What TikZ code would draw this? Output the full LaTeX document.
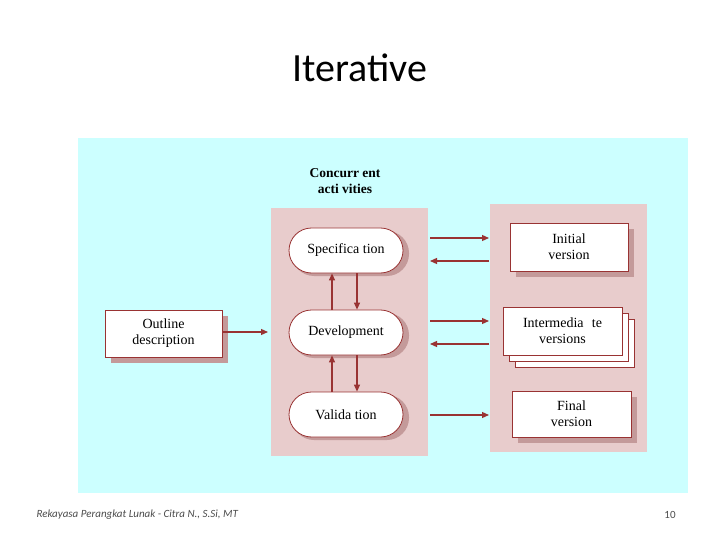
\documentclass[tikz,border=0pt]{standalone}
\usepackage{fontspec}
\setmainfont{Liberation Serif}
\newfontfamily\calib{Carlito}
\usetikzlibrary{arrows.meta,shapes.misc}
\definecolor{bgc}{HTML}{CCFFFF}
\definecolor{pnl}{HTML}{E8CCCC}
\definecolor{arr}{HTML}{993333}
\definecolor{shd}{HTML}{C49A9A}
\begin{document}
\begin{tikzpicture}[x=1pt,y=-1pt,
  box/.style={draw=arr,fill=white,line width=0.8pt,minimum width=117pt,minimum height=47pt,align=center,font=\fontsize{14}{16}\selectfont,inner sep=1pt},
  pill/.style={box,rounded rectangle,minimum width=116pt,minimum height=45pt},
  ar/.style={draw=arr,line width=1.2pt,-{Triangle[length=7pt,width=6pt]}}]
\useasboundingbox (0,0) rectangle (720,540);
\fill[white] (0,0) rectangle (720,540);
\node[font=\calib\fontsize{40}{44}\selectfont] (title) at (360,68) {Iterative};
\fill[bgc] (78,138) rectangle (688,493);
\fill[pnl] (271,208) rectangle (428,456);
\fill[pnl] (490,204) rectangle (647,452);
\node[font=\bfseries\fontsize{13.5}{16}\selectfont,align=center] (conc) at (345,181) {Concurr ent\\acti vities};
% shadows
\foreach \x/\y/\w/\h in {111/316/117/47, 516/229/118/48, 518/397/119/46, 515/319/119/48, 509/313/119/48}
  \fill[shd] (\x,\y) rectangle ++(\w,\h);
\foreach \y in {251,333,415} \fill[shd,rounded corners=22pt] (292,\y-20) rectangle (409,\y+25);
\node[box] (out) at (163.5,333.5) {Outline\\description};
\node[box,draw=arr,fill=white,minimum width=119pt,minimum height=48pt] (im3) at (574.5,343) {};
\node[box,minimum width=119pt,minimum height=48pt] (im2) at (568.5,337) {};
\node[box,minimum width=119pt,minimum height=48pt] (im) at (562.5,331) {Intermedia\,\, te\\versions};
\node[box,minimum width=118pt,minimum height=48pt] (ini) at (569,247) {Initial\\version};
\node[box,minimum width=119pt,minimum height=46pt] (fin) at (571.5,414) {Final\\version};
\node[pill] (spec) at (346,250.5) {Specifica tion};
\node[pill] (dev) at (346,332.5) {Development};
\node[pill] (val) at (346,414.5) {Valida tion};
\coordinate (oe) at (268,332);
\draw[ar] (out.east|-oe) -- (oe);
\foreach \n/\m/\a/\b in {spec/ini/238/261, dev/im/321/344}{
  \coordinate (p\n) at (489,\a); \coordinate (q\n) at (430,\a);
  \coordinate (r\n) at (489,\b); \coordinate (s\n) at (430,\b);
  \draw[ar] (q\n) -- (p\n); \draw[ar] (r\n) -- (s\n);}
\coordinate (pv) at (489,415); \coordinate (qv) at (430,415);
\draw[ar] (qv) -- (pv);
\draw[ar] ([xshift=-14pt]dev.north) -- ([xshift=-14pt]spec.south);
\draw[ar] ([xshift=11pt]spec.south) -- ([xshift=11pt]dev.north);
\draw[ar] ([xshift=-14pt]val.north) -- ([xshift=-14pt]dev.south);
\draw[ar] ([xshift=11pt]dev.south) -- ([xshift=11pt]val.north);
\node[anchor=west,font=\calib\itshape\fontsize{11}{13}\selectfont,text=black!70] (foot) at (33,515) {Rekayasa Perangkat Lunak - Citra N., S.Si, MT};
\node[font=\calib\fontsize{11}{13}\selectfont,text=black!70] (pg) at (670,515) {10};
\end{tikzpicture}
\end{document}
